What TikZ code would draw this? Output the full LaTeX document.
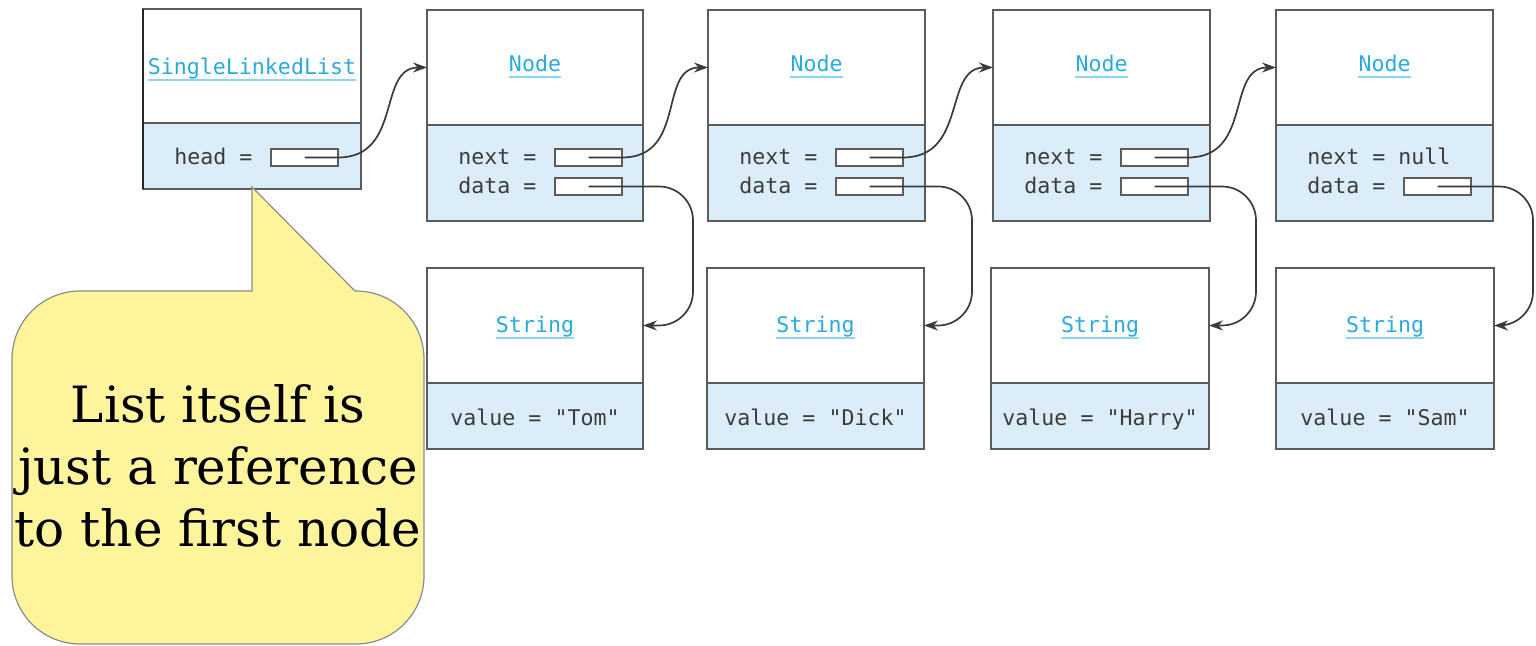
\documentclass[tikz,border=0pt]{standalone}
\usepackage{fontspec}
\setmonofont{DejaVu Sans Mono}
\newfontfamily\callfont{DejaVu Serif}
\usetikzlibrary{fit,arrows.meta,calc}
\definecolor{boxline}{HTML}{5C5C5C}
\definecolor{bodyfill}{HTML}{DCEDFA}
\definecolor{titleblue}{HTML}{2BAAE2}
\definecolor{ulblue}{HTML}{8ED4F4}
\definecolor{fieldtext}{HTML}{3C3C3C}
\definecolor{ptrcol}{HTML}{3A3A3A}
\definecolor{notefill}{HTML}{FDF49C}
\definecolor{noteline}{HTML}{8C8C8C}
\tikzset{
  hdr/.style={draw=boxline, line width=0.8pt, fill=white, inner sep=0pt, outer sep=0pt},
  body/.style={draw=boxline, line width=0.8pt, fill=bodyfill, inner sep=0pt, outer sep=0pt},
  slot/.style={draw=boxline, line width=0.6pt, fill=white, inner sep=0pt, outer sep=0pt},
  title/.style={font=\ttfamily\fontsize{10.8}{12}\selectfont, text=titleblue, inner xsep=0pt, inner ysep=1pt},
  uline/.style={draw=ulblue, line width=0.8pt},
  fld/.style={font=\ttfamily\fontsize{10.8}{12}\selectfont, text=fieldtext, inner sep=0pt},
  ptr/.style={draw=ptrcol, line width=0.85pt, -{Stealth[length=7pt,width=5pt]}},
  callout/.style={draw=noteline, line width=0.6pt, fill=notefill}
}
\begin{document}
\begin{tikzpicture}[x=0.5pt,y=-0.5pt]
\useasboundingbox (0,0) rectangle (1536,646);

% the list object
\node[hdr, fit={(143,9)(361,123)}] (L) {};
\node[body, fit={(143,123)(361,189)}] (Lb) {};
\draw[draw=black!85, line width=1.4pt] (L.north west) -- (Lb.south west);
\node[title, anchor=base] (Lt) at (252,75) {SingleLinkedList};
\draw[uline] ([yshift=-2.5pt]Lt.base west) -- ([yshift=-2.5pt]Lt.base east);
\node[fld, anchor=base west] (Lh) at (174,165) {head =};
\node[slot, fit={(271,149)(338,166)}] (hf) {};

% node objects
\foreach \i/\L/\R in {1/427/643, 2/708/925, 3/993/1210, 4/1276/1493} {
  \node[hdr, fit={(\L,10)(\R,125)}] (n\i) {};
  \node[body, fit={(\L,125)(\R,221)}] (n\i b) {};
  \node[title, anchor=base] (n\i t) at ({(\L+\R)/2},72) {Node};
  \draw[uline] ([yshift=-2.5pt]n\i t.base west) -- ([yshift=-2.5pt]n\i t.base east);
  \node[fld, anchor=base west] (n\i dl) at ({\L+31},194) {data =};
  \node[slot, fit={({\L+128},178)({\L+195},195)}] (n\i data) {};
}
\foreach \i/\L in {1/427, 2/708, 3/993} {
  \node[fld, anchor=base west] (n\i nl) at ({\L+31},165) {next =};
  \node[slot, fit={({\L+128},149)({\L+195},166)}] (n\i next) {};
}
\node[fld, anchor=base west] (n4nl) at (1307,165) {next = null};

% string objects
\foreach \i/\L/\R/\v in {1/427/643/Tom, 2/707/924/Dick, 3/991/1209/Harry, 4/1276/1494/Sam} {
  \node[hdr, fit={(\L,268)(\R,383)}] (s\i) {};
  \node[body, fit={(\L,383)(\R,449)}] (s\i b) {};
  \node[title, anchor=base] (s\i t) at ({(\L+\R)/2},333) {String};
  \draw[uline] ([yshift=-2.5pt]s\i t.base west) -- ([yshift=-2.5pt]s\i t.base east);
  \node[fld, anchor=base] (s\i v) at ({(\L+\R)/2},425) {value = "\v"};
}

% references
\draw[ptr] (hf.center) -- (hf.east) .. controls +(65,0) and +(-50,0) .. (n1.west);
\foreach \i/\j in {1/2, 2/3, 3/4} {
  \draw[ptr] (n\i next.center) -- (n\i next.east) .. controls +(65,0) and +(-50,0) .. (n\j.west);
}
\foreach \i/\X in {1/693, 2/972, 3/1256, 4/1533} {
  \draw[ptr, rounded corners=17pt] (n\i data.center) -| (\X,325.5) -- (s\i.east);
}

% speech bubble
\draw[callout] (200,644) [rounded corners=34pt] -- (12,644) -- (12,291) -- (150,291)
  [sharp corners] -- (252,291) -- (252,187) -- (355,291)
  [rounded corners=34pt] -- (424,291) -- (424,644) -- cycle;
\node[align=center, font=\callfont\fontsize{25}{31}\selectfont, inner sep=0pt] (note) at (218,466)
  {List itself is\\just a reference\\to the first node};
\end{tikzpicture}
\end{document}
